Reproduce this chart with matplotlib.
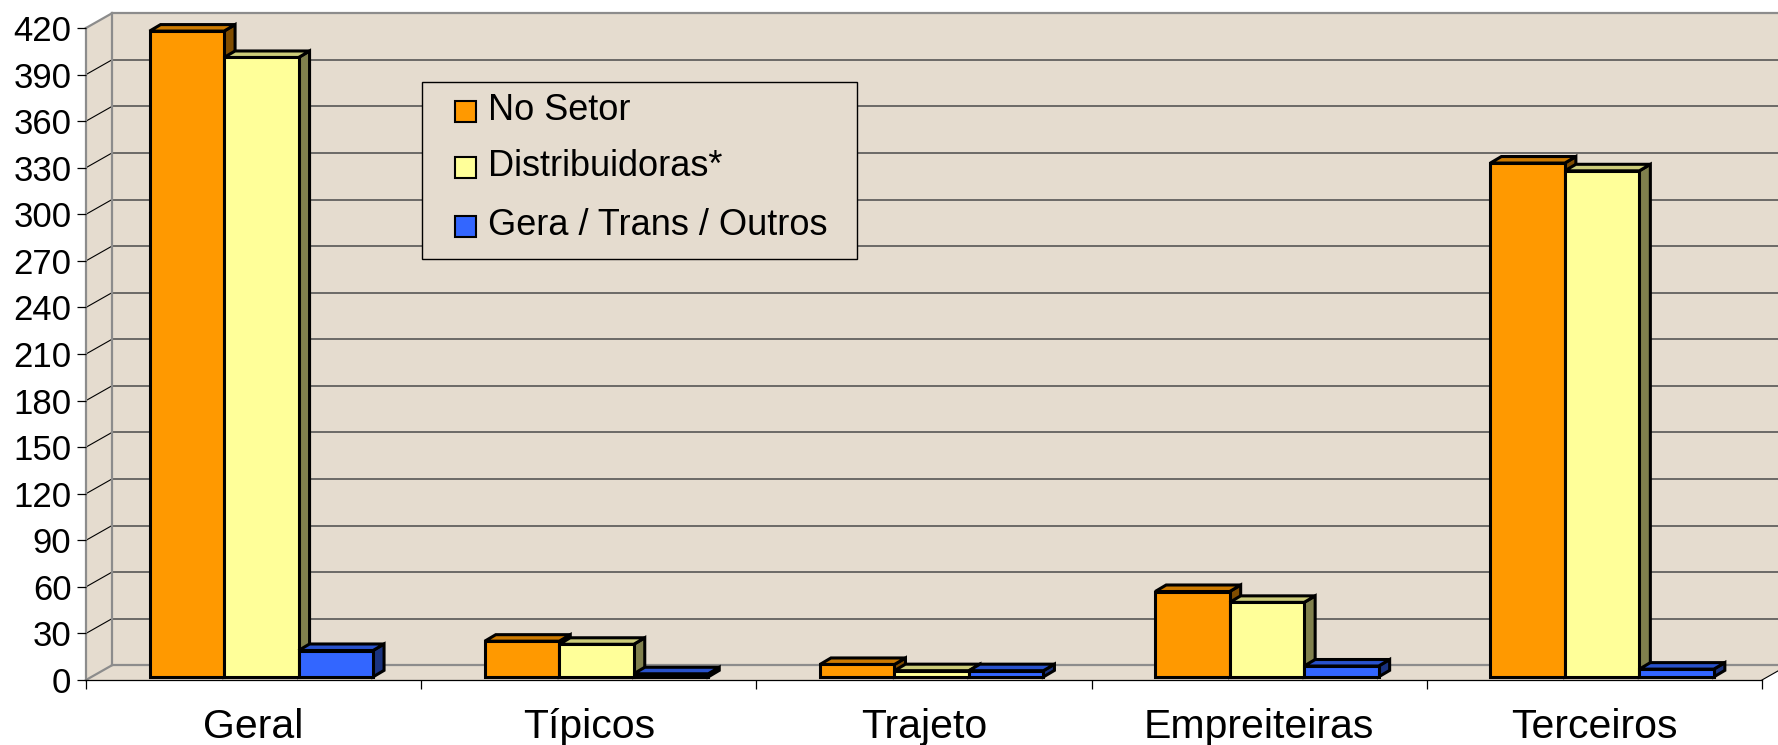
import matplotlib

matplotlib.use("Agg")
from matplotlib import pyplot as plt
from matplotlib.patches import Polygon, Rectangle

categories = ["Geral", "Típicos", "Trajeto", "Empreiteiras", "Terceiros"]
series_names = ["No Setor", "Distribuidoras*", "Gera / Trans / Outros"]
no_setor = [416, 23, 8, 55, 331]
distribuidoras = [399, 21, 4, 48, 326]
gera_trans = [17, 2, 4, 7, 5]
y_ticks = list(range(0, 421, 30))

W, H = 1778, 745
WALL = "#e5dccf"
EDGE_GRAY = "#8c8c8c"
GRID = "#4a4a4a"

face_colors = ["#ff9900", "#ffff99", "#3366ff"]
top_colors = ["#cc7a00", "#cccc7a", "#2952cc"]
side_colors = ["#804d00", "#80804d", "#1a3380"]

# depth of the 3-D box (data units) and of a single bar
DX, DY = 26 / 335.2, 9.5
BDX, BDY = 11 / 335.2, 4.2
FX, FY = 0.023, 2.0
BAR_W = 1 / 4.5


def px(x, y):
    return x / W, 1 - y / H


def main() -> None:
    plt.rcParams["font.family"] = ["Liberation Sans", "DejaVu Sans"]
    fig = plt.figure(figsize=(W / 100, H / 100), dpi=100)
    fig.patch.set_facecolor("white")

    ax = fig.add_axes([86 / W, 65 / H, 1676 / W, 652 / H])
    ax.set_xlim(0, 5)
    ax.set_ylim(0, 420)
    ax.patch.set_visible(False)
    for sp in ax.spines.values():
        sp.set_visible(False)

    draw_box(ax)
    draw_bars(ax, [no_setor, distribuidoras, gera_trans])

    ax.set_yticks(y_ticks)
    ax.set_yticklabels([str(v) for v in y_ticks])
    ax.tick_params(axis="y", length=6.5, width=0.9, color="black", labelsize=25, pad=4)
    ax.set_xticks(range(6))
    ax.set_xticklabels([""] * 6)
    ax.tick_params(axis="x", which="major", length=6.5, width=0.9, color="black")
    ax.set_xticks([i + 0.5 for i in range(5)], minor=True)
    ax.set_xticklabels(categories, minor=True)
    ax.tick_params(axis="x", which="minor", length=0, labelsize=29.5, pad=20)

    draw_legend(fig)

    fig.savefig("out.png", dpi=100)


def draw_box(ax) -> None:
    back = Rectangle((DX, DY), 5.5, 420, facecolor=WALL, edgecolor="none", clip_on=False, zorder=0)
    ax.add_patch(back)
    left = Polygon([(0, 0), (DX, DY), (DX, 420 + DY), (0, 420)], closed=True,
                   facecolor=WALL, edgecolor="none", clip_on=False, zorder=0)
    ax.add_patch(left)
    floor = Polygon([(0, 0), (5, 0), (5 + DX, DY), (DX, DY)], closed=True,
                    facecolor=WALL, edgecolor="none", clip_on=False, zorder=0)
    ax.add_patch(floor)

    for v in y_ticks[1:-1]:
        ax.plot([DX, 5.5], [v + DY, v + DY], color=GRID, lw=1.1, clip_on=False, zorder=1)
        ax.plot([0, DX], [v, v + DY], color="black", lw=0.8, clip_on=False, zorder=1)

    kw = dict(color=EDGE_GRAY, lw=1.6, clip_on=False, zorder=1)
    ax.plot([0, 0], [0, 420], **kw)
    ax.plot([DX, DX], [DY, 420 + DY], **kw)
    ax.plot([0, DX], [420, 420 + DY], **kw)
    ax.plot([DX, 5.5], [420 + DY, 420 + DY], **kw)
    ax.plot([0, DX], [0, DY], **kw)
    ax.plot([DX, 5.5], [DY, DY], **kw)

    ax.plot([0, 5], [0, 0], color="black", lw=0.9, clip_on=False, zorder=2)
    ax.plot([5, 5 + DX], [0, DY], color="black", lw=0.8, clip_on=False, zorder=2)


def draw_bars(ax, series) -> None:
    for i in range(len(categories)):
        for j, values in enumerate(series):
            x0 = i + 0.5 - 1.5 * BAR_W + j * BAR_W + FX
            x1 = x0 + BAR_W
            y0 = FY
            y1 = values[i] + FY
            kw = dict(closed=True, edgecolor="black", lw=2.2, joinstyle="miter",
                      clip_on=False, zorder=3)
            side = Polygon([(x1, y0), (x1 + BDX, y0 + BDY), (x1 + BDX, y1 + BDY), (x1, y1)],
                           facecolor=side_colors[j], **kw)
            top = Polygon([(x0, y1), (x1, y1), (x1 + BDX, y1 + BDY), (x0 + BDX, y1 + BDY)],
                          facecolor=top_colors[j], **kw)
            front = Polygon([(x0, y0), (x1, y0), (x1, y1), (x0, y1)],
                            facecolor=face_colors[j], **kw)
            ax.add_patch(side)
            ax.add_patch(top)
            ax.add_patch(front)


def draw_legend(fig) -> None:
    bx0, by0 = px(422, 259)
    bx1, by1 = px(857, 82)
    fig.patches.append(Rectangle((bx0, by0), bx1 - bx0, by1 - by0, transform=fig.transFigure,
                                 facecolor=WALL, edgecolor="black", lw=1.0, zorder=5))
    rows = [(101, 120), (157, 176), (216, 235)]
    for (sq_top, base), name, color in zip(rows, series_names, face_colors):
        sx, sy = px(455, sq_top + 21)
        fig.patches.append(Rectangle((sx, sy), 21 / W, 21 / H, transform=fig.transFigure,
                                     facecolor=color, edgecolor="black", lw=1.5, zorder=6))
        tx, ty = px(488, base)
        fig.text(tx, ty, name, fontsize=26, va="baseline", ha="left", zorder=6)


if __name__ == "__main__":
    main()
